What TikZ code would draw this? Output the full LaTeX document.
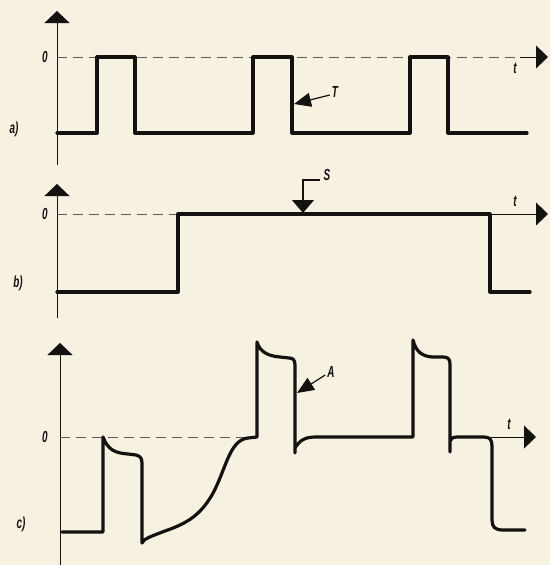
\documentclass[tikz,border=0pt]{standalone}
\usepackage{fontspec}
\setmainfont{Liberation Sans}
\usetikzlibrary{arrows.meta}
\definecolor{paper}{RGB}{246,241,224}
\definecolor{ink}{RGB}{20,18,16}
\tikzset{
  sig/.style={ink, line width=3.2pt, line join=round, line cap=round},
  axis/.style={ink, line width=0.9pt},
  zero/.style={ink!70, line width=0.8pt, dash pattern=on 10pt off 6pt},
  uparrow/.style={axis, -{Triangle[length=12pt,width=25pt]}},
  rarrow/.style={axis, -{Triangle[length=12pt,width=23pt]}},
  ptr/.style={ink, line width=1.2pt, -{Triangle[length=17pt,width=14pt]}},
  lab/.style={inner sep=0pt, font=\fontsize{16}{16}\selectfont\bfseries\itshape, text=ink},
}
\newcommand{\cn}[1]{\scalebox{0.62}[1]{#1}}
\begin{document}
\begin{tikzpicture}[x=1pt,y=-1pt]
\fill[paper] (0,0) rectangle (550,565);
\useasboundingbox (0,0) rectangle (550,565);

% ---------------- panel a
\coordinate (a0) at (57,165);
\coordinate (atop) at (57,11);
\coordinate (az) at (57,57);
\coordinate (azend) at (530,57);
\coordinate (atip) at (548,57);
\draw[uparrow] (a0) -- (atop);
\draw[zero] (az) -- (azend);
\draw[rarrow] (520,57) -- (atip);
\draw[sig] (57,133) -- (97,133) -- (97,57) -- (135,57) -- (135,133) -- (253,133) -- (253,57)
  -- (292,57) -- (292,133) -- (410,133) -- (410,57) -- (448,57) -- (448,133) -- (527,133);
\node[lab] (a0lab) at (45,57) {\cn{0}};
\node[lab] (atlab) at (515,68) {\cn{t}};
\node[lab] (alab) at (14,129) {\cn{a)}};
\node[lab] (Tlab) at (335,92) {\cn{T}};
\coordinate (Ttip) at (294,104);
\draw[ptr] (Tlab.west) ++(-2,3) -- (Ttip);

% ---------------- panel b
\coordinate (b0) at (57,318);
\coordinate (btop) at (57,184);
\coordinate (bz) at (57,214);
\coordinate (btip) at (548,214);
\draw[uparrow] (b0) -- (btop);
\draw[zero] (bz) -- (178,214);
\draw[rarrow] (490,214) -- (btip);
\draw[sig] (57,292) -- (178,292) -- (178,214) -- (490,214) -- (490,292) -- (530,292);
\node[lab] (b0lab) at (45,214) {\cn{0}};
\node[lab] (btlab) at (515,201) {\cn{t}};
\node[lab] (blab) at (18,283) {\cn{b)}};
\node[lab] (Slab) at (327,175) {\cn{S}};
\coordinate (Stip) at (303,213);
\draw[ptr, -{Triangle[length=13pt,width=22pt]}] (320,180) -- (303,180) -- (Stip);

% ---------------- panel c
\coordinate (c0) at (60,565);
\coordinate (ctop) at (60,343);
\coordinate (cz) at (60,437);
\coordinate (ctip) at (536,437);
\draw[uparrow] (c0) -- (ctop);
\draw[zero] (cz) -- (257,437);
\draw[rarrow] (490,437) -- (ctip);
\draw[sig] (62,532) -- (103,532) -- (103,437)
  .. controls (108,450) and (115,453) .. (128,454) -- (136,455)
  .. controls (140,456) and (142,458) .. (142,463) -- (142,543)
  .. controls (143,539) and (152,536) .. (165,531)
  .. controls (188,523) and (200,515) .. (212,495)
  .. controls (226,470) and (229,440) .. (248,438) -- (257,437)
  -- (257,342)
  .. controls (260,352) and (268,356) .. (280,357) -- (289,358)
  .. controls (293,358) and (295,360) .. (295,365) -- (295,453) -- (295,448)
  .. controls (300,440) and (305,437) .. (316,437) -- (413,437)
  -- (413,340)
  .. controls (416,352) and (422,356) .. (432,357) -- (443,357)
  .. controls (448,357) and (450,359) .. (450,364) -- (450,452) -- (450,441)
  .. controls (451,438) and (453,437) .. (458,437) -- (484,437)
  .. controls (490,437) and (492,440) .. (492,446) -- (492,520)
  .. controls (492,527) and (495,530) .. (503,530) -- (525,530);
\node[lab] (c0lab) at (45,437) {\cn{0}};
\node[lab] (ctlab) at (509,424) {\cn{t}};
\node[lab] (clab) at (21,524) {\cn{c)}};
\node[lab] (Alab) at (331,372) {\cn{A}};
\coordinate (Atip) at (297,393);
\draw[ptr] (Alab.west) ++(-2,3) -- (Atip);
\end{tikzpicture}
\end{document}
